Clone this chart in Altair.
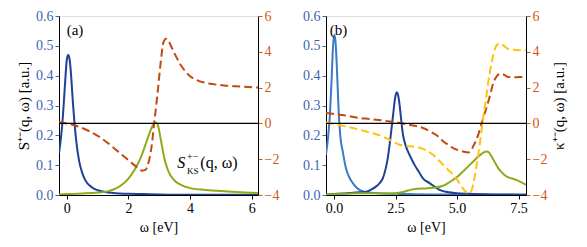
import altair as alt
import pandas as pd

# ---------------- data ----------------
# panel (a)
a_S_x = [-0.25, -0.2, -0.15, -0.1, -0.05, 0.0, 0.05, 0.1, 0.15, 0.2, 0.25, 0.3, 0.4, 0.5, 0.6,
         0.8, 1.0, 1.25, 1.5, 2.0, 2.5, 3.0, 4.0, 5.0, 6.2]
a_S_y = [0.14, 0.18, 0.23, 0.30, 0.38, 0.45, 0.47, 0.45, 0.39, 0.31, 0.245, 0.19, 0.115, 0.075, 0.05,
         0.027, 0.016, 0.010, 0.007, 0.004, 0.003, 0.002, 0.001, 0.001, 0.0005]

a_SKS_x = [-0.25, 0.0, 0.5, 1.0, 1.35, 1.6, 1.8, 2.0, 2.2, 2.4, 2.55, 2.7, 2.8, 2.9, 2.97, 3.05,
           3.15, 3.25, 3.35, 3.5, 3.7, 4.0, 4.5, 5.0, 5.5, 6.2]
a_SKS_y = [0.002, 0.003, 0.005, 0.008, 0.013, 0.022, 0.035, 0.055, 0.085, 0.125, 0.168, 0.212, 0.235,
           0.242, 0.228, 0.185, 0.13, 0.092, 0.068, 0.048, 0.034, 0.023, 0.017, 0.013, 0.010, 0.007]

a_K_x = [-0.25, 0.0, 0.3, 0.7, 1.1, 1.5, 1.8, 2.1, 2.3, 2.45, 2.55, 2.65, 2.75, 2.83, 2.94, 3.05,
         3.14, 3.22, 3.3, 3.41, 3.55, 3.7, 3.85, 4.0, 4.2, 4.45, 4.8, 5.1, 5.5, 6.2]
a_K_y = [0.08, 0.0, -0.13, -0.41, -0.8, -1.33, -1.77, -2.2, -2.48, -2.64, -2.6, -2.2, -1.3, -0.05,
         1.6, 3.47, 4.55, 4.73, 4.6, 4.21, 3.72, 3.25, 2.9, 2.63, 2.43, 2.28, 2.18, 2.12, 2.07, 2.0]

# panel (b)
b_S1_x = [-0.33, -0.25, -0.17, -0.1, -0.05, 0.0, 0.05, 0.1, 0.18, 0.25, 0.35, 0.48, 0.6, 0.76, 0.9,
          1.03, 1.3, 1.6, 2.0, 2.5, 3.0, 4.0, 5.0, 6.0, 7.0, 7.8]
b_S1_y = [0.135, 0.19, 0.27, 0.39, 0.49, 0.537, 0.52, 0.45, 0.29, 0.2, 0.146, 0.09, 0.062, 0.04, 0.026,
          0.017, 0.009, 0.007, 0.005, 0.004, 0.003, 0.002, 0.002, 0.001, 0.001, 0.001]

b_S2_x = [-0.33, 0.0, 0.5, 1.0, 1.3, 1.5, 1.7, 1.85, 1.98, 2.1, 2.18, 2.25, 2.32, 2.4, 2.46, 2.51,
          2.55, 2.6, 2.66, 2.73, 2.8, 2.9, 3.0, 3.15, 3.27, 3.45, 3.61, 3.88, 4.1, 4.29, 4.6, 4.97,
          5.5, 6.5, 7.8]
b_S2_y = [0.002, 0.003, 0.006, 0.009, 0.011, 0.018, 0.028, 0.04, 0.056, 0.09, 0.123, 0.165, 0.213,
          0.27, 0.314, 0.338, 0.344, 0.335, 0.303, 0.25, 0.202, 0.168, 0.146, 0.12, 0.101, 0.077,
          0.056, 0.04, 0.027, 0.017, 0.01, 0.006, 0.004, 0.002, 0.001]

b_SKS_x = [-0.33, 0.5, 1.0, 1.5, 2.0, 2.5, 2.8, 3.0, 3.15, 3.4, 3.7, 4.0, 4.4, 4.6, 4.84, 5.05, 5.24,
           5.45, 5.65, 5.85, 6.0, 6.1, 6.2, 6.3, 6.4, 6.55, 6.67, 6.85, 7.01, 7.2, 7.42, 7.6, 7.8]
b_SKS_y = [0.002, 0.004, 0.006, 0.006, 0.005, 0.006, 0.01, 0.015, 0.018, 0.021, 0.022, 0.024, 0.03,
           0.038, 0.051, 0.064, 0.079, 0.096, 0.112, 0.128, 0.138, 0.144, 0.146, 0.142, 0.129, 0.107,
           0.09, 0.073, 0.062, 0.056, 0.05, 0.043, 0.034]

b_K1_x = [-0.33, 0.0, 0.5, 0.89, 1.5, 2.25, 3.0, 3.61, 4.02, 4.25, 4.43, 4.64, 4.84, 5.05, 5.24, 5.45,
          5.55, 5.65, 5.76, 5.86, 5.96, 6.06, 6.17, 6.27, 6.37, 6.47, 6.57, 6.67, 6.81, 6.95, 7.08,
          7.3, 7.55, 7.8]
b_K1_y = [0.575, 0.53, 0.43, 0.33, 0.24, 0.11, -0.06, -0.26, -0.54, -0.75, -1.0, -1.2, -1.38, -1.5,
          -1.57, -1.62, -1.55, -1.29, -0.98, -0.63, -0.17, 0.3, 0.78, 1.23, 1.75, 2.25, 2.55, 2.72,
          2.78, 2.68, 2.59, 2.58, 2.59, 2.59]

b_K2_x = [-0.33, 0.0, 0.48, 1.3, 1.98, 2.3, 2.66, 3.0, 3.2, 3.61, 3.8, 4.02, 4.2, 4.43, 4.64, 4.84,
          5.0, 5.18, 5.3, 5.45, 5.55, 5.65, 5.76, 5.86, 5.96, 6.06, 6.17, 6.27, 6.37, 6.47, 6.55,
          6.63, 6.77, 6.9, 7.01, 7.2, 7.42, 7.6, 7.8]
b_K2_y = [0.055, -0.03, -0.17, -0.45, -0.73, -0.95, -1.19, -1.27, -1.29, -1.42, -1.55, -1.75, -1.98,
          -2.31, -2.6, -2.87, -3.15, -3.52, -3.75, -3.9, -3.85, -3.43, -2.6, -1.75, -0.75, 0.3, 1.35,
          2.35, 3.15, 3.84, 4.2, 4.4, 4.46, 4.33, 4.21, 4.13, 4.1, 4.09, 4.08]

left_ticks = [0.0, 0.1, 0.2, 0.3, 0.4, 0.5, 0.6]
right_ticks = [-4, -2, 0, 2, 4, 6]
a_xticks = [0, 2, 4, 6]
b_xticks = [0.0, 2.5, 5.0, 7.5]

# ---------------- styling ----------------
FONT = "Liberation Serif"
DARK_BLUE = "#1f4196"
LIGHT_BLUE = "#3a7bc8"
GREEN = "#8aac1a"
ORANGE = "#c24a0e"
YELLOW = "#ffc20e"
LBL_BLUE = "#3f63b0"
LBL_ORANGE = "#d0581a"
FS = 14

names = ["a_S", "a_SKS", "a_K", "b_S1", "b_S2", "b_SKS", "b_K1", "b_K2"]
cols = [DARK_BLUE, GREEN, ORANGE, LIGHT_BLUE, DARK_BLUE, GREEN, ORANGE, YELLOW]
color_scale = alt.Scale(domain=names, range=cols)

AX = dict(labelFont=FONT, titleFont=FONT, labelFontSize=FS, titleFontWeight="normal",
          tickSize=4, labelPadding=2, domainColor="black", titleColor="black", labelOverlap=False,
          labelFlush=False, grid=False)


def long_df(series):
    rows = []
    for name, xs, ys in series:
        for i, (x, y) in enumerate(zip(xs, ys)):
            rows.append({"series": name, "w": x, "v": y, "i": i})
    return pd.DataFrame(rows)


def panel(xdom, xticks, xfmt, left_series, right_series, texts, left_title, right_title, w):
    xscale = alt.Scale(domain=xdom, nice=False, zero=False)
    xaxis = alt.Axis(values=xticks, format=xfmt, title="ω [eV]", tickColor="black",
                     labelColor="black", titlePadding=5, titleFontSize=FS, **AX)
    lscale = alt.Scale(domain=[0, 0.6], nice=False, zero=False)
    rscale = alt.Scale(domain=[-4, 6], nice=False, zero=False)
    laxis = alt.Axis(orient="left", values=left_ticks, format=".1f", labelColor=LBL_BLUE,
                     tickColor=LBL_BLUE, title=left_title if left_title else None, titlePadding=4,
                     titleFontSize=15, **AX)
    raxis_kw = dict(orient="right", values=right_ticks,
                    labelExpr="replace(datum.label, '-', '−')",
                    labelColor=LBL_ORANGE, tickColor=LBL_ORANGE, titleFontSize=15, **AX)
    if right_title:
        raxis = alt.Axis(title=right_title, titleAngle=270, titlePadding=20, **raxis_kw)
    else:
        raxis = alt.Axis(title=None, **raxis_kw)

    ldf = long_df(left_series)
    left_lines = alt.Chart(ldf).mark_line(strokeWidth=2, interpolate="monotone", clip=True).encode(
        x=alt.X("w:Q", scale=xscale, axis=xaxis),
        y=alt.Y("v:Q", scale=lscale, axis=laxis),
        color=alt.Color("series:N", scale=color_scale, legend=None),
        order="i:Q",
    )
    layers = [left_lines]
    for t, tx, ty, size, style in texts:
        layers.append(
            alt.Chart(pd.DataFrame({"w": [tx], "v": [ty], "t": [t]})).mark_text(
                align="left", baseline="alphabetic", font=FONT, fontSize=size,
                fontStyle=style, color="black").encode(
                x=alt.X("w:Q", scale=xscale, axis=xaxis),
                y=alt.Y("v:Q", scale=lscale, axis=laxis),
                text="t:N")
        )
    left = alt.layer(*layers)

    rdf = long_df(right_series)
    right_lines = alt.Chart(rdf).mark_line(strokeWidth=2, strokeDash=[8, 4],
                                            interpolate="monotone", clip=True).encode(
        x=alt.X("w:Q", scale=xscale, axis=xaxis),
        y=alt.Y("v:Q", scale=rscale, axis=raxis),
        color=alt.Color("series:N", scale=color_scale, legend=None),
        order="i:Q",
    )
    rule = alt.Chart(pd.DataFrame({"v": [0]})).mark_rule(color="black", strokeWidth=1.2).encode(
        y=alt.Y("v:Q", scale=rscale, axis=raxis))
    right = alt.layer(right_lines, rule)
    return alt.layer(left, right).resolve_scale(y="independent").properties(width=w, height=179)


pa = panel([-0.25, 6.2], a_xticks, "d",
           [("a_S", a_S_x, a_S_y), ("a_SKS", a_SKS_x, a_SKS_y)],
           [("a_K", a_K_x, a_K_y)],
           [("(a)", 0.0, 0.535, 15, "normal"),
            ("S", 3.58, 0.089, 16, "italic"),
            ("+−", 3.9, 0.116, 10, "normal"),
            ("KS", 3.9, 0.07, 9, "normal"),
            ("(q, ω)", 4.33, 0.089, 16, "normal")],
           "S⁺⁻(q, ω)   [a.u.]", None, 199)

pb = panel([-0.33, 7.8], b_xticks, ".1f",
           [("b_S1", b_S1_x, b_S1_y), ("b_S2", b_S2_x, b_S2_y), ("b_SKS", b_SKS_x, b_SKS_y)],
           [("b_K1", b_K1_x, b_K1_y), ("b_K2", b_K2_x, b_K2_y)],
           [("(b)", -0.18, 0.535, 15, "normal")],
           None, "κ⁺⁻(q, ω)   [a.u.]", 200)

chart = alt.hconcat(pa, pb, spacing=22).properties(
    padding={"left": 8, "top": 0, "right": 0, "bottom": 5}
).configure_view(
    stroke="black", strokeWidth=1
).configure(font=FONT)

chart.save("out.html", embed_options={"renderer": "svg", "actions": False})
